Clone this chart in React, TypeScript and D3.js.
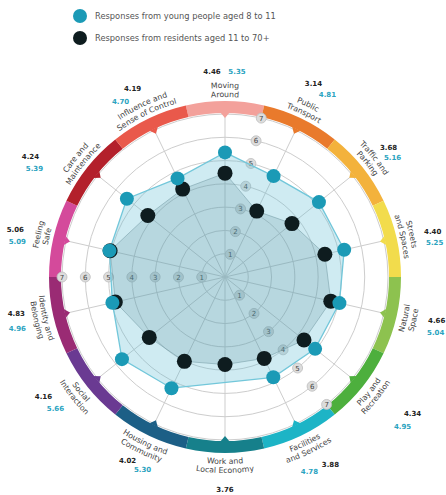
import React from "react";
import * as d3 from "d3";

const W = 446,
  H = 495;
const cx = 225,
  cy = 277;

// categories clockwise from the top, two lines each
const LABEL_LINES = [
  ["Moving", "Around"],
  ["Public", "Transport"],
  ["Traffic and", "Parking"],
  ["Streets", "and Spaces"],
  ["Natural", "Space"],
  ["Play and", "Recreation"],
  ["Facilities", "and Services"],
  ["Work and", "Local Economy"],
  ["Housing and", "Community"],
  ["Social", "Interaction"],
  ["Identity and", "Belonging"],
  ["Feeling", "Safe"],
  ["Care and", "Maintenance"],
  ["Influence and", "Sense of Control"],
];

const RESIDENTS = [4.46, 3.14, 3.68, 4.4, 4.66, 4.34, 3.88, 3.76, 4.02, 4.16, 4.83, 5.06, 4.24, 4.19];
const YOUNG = [5.35, 4.81, 5.16, 5.25, 5.04, 4.95, 4.78, null, 5.3, 5.66, 4.96, 5.09, 5.39, 4.7];

const SEGMENT_COLORS = [
  "#f3a19b", "#e97a2c", "#f3b23c", "#f2dc4c", "#8dc24f", "#4daf3d", "#1db4c6",
  "#16808b", "#1c5f86", "#6a3a92", "#9a2b74", "#d44a9b", "#b3202b", "#e9594b",
];

const SCALE_TICKS = [1, 2, 3, 4, 5, 6, 7];

const LEGEND = [
  { label: "Responses from young people aged 8 to 11", color: "#1b9ab6" },
  { label: "Responses from residents aged 11 to 70+", color: "#0e1c1f" },
];

// value label layout tweaks (black label nudge, blue label offset)
const BLACK_NUDGE = [[-13, 7], [-4, -2], [-3, 3], [0, 2], [4, -4], [21, 4], [13, -4], [0, -1], [-5, -8], [-15, -13], [-1, -11], [-2, 0], [-28, 12], [0, 3]];
const BLUE_OFFSET = [[25, 0], [14, 11], [4, 10], [2, 11], [-1, 12], [-10, 13], [-21, 7], [0, 0], [15, 9], [12, 12], [1, 15], [2, 12], [4, 12], [-12, 13]];

const n = LABEL_LINES.length;
const step = (2 * Math.PI) / n;
const r = d3.scaleLinear().domain([0, 7]).range([0, 163]);
const pt = (a: number, rad: number): [number, number] => [cx + rad * Math.sin(a), cy - rad * Math.cos(a)];

const bandArc = d3.arc<any>().innerRadius(164).outerRadius(176);

function labelPath(a: number, R: number, upper: boolean) {
  const s = 1.1;
  if (upper) {
    const [x0, y0] = pt(a - s, R), [x1, y1] = pt(a + s, R);
    return `M${x0},${y0} A${R},${R} 0 0 1 ${x1},${y1}`;
  }
  const [x0, y0] = pt(a + s, R), [x1, y1] = pt(a - s, R);
  return `M${x0},${y0} A${R},${R} 0 0 0 ${x1},${y1}`;
}

export default function App() {
  const radial = d3
    .lineRadial<[number, number]>()
    .angle(d => d[0])
    .radius(d => r(d[1]))
    .curve(d3.curveLinearClosed);

  const youngPts = YOUNG.map((v, i) => [i * step, v] as [number, number | null]).filter(d => d[1] != null) as [number, number][];
  const resPts = RESIDENTS.map((v, i) => [i * step, v] as [number, number]);

  const font = "'DejaVu Sans', sans-serif";

  return (
    <div style={{ position: "absolute", left: 0, top: 0 }}>
      <svg width={W} height={H} style={{ display: "block", background: "#fff" }}>
        {/* legend */}
        {LEGEND.map((d, i) => (
          <g key={i} transform={`translate(80,${16 + i * 22})`}>
            <circle r={7} fill={d.color} />
            <text x={15} y={3} fontSize={8.3} fill="#555" fontFamily={font}>
              {d.label}
            </text>
          </g>
        ))}

        {/* grid */}
        <g fill="none" stroke="#cdcdcd" strokeWidth={1}>
          {SCALE_TICKS.map(t => (
            <circle key={t} cx={cx} cy={cy} r={r(t)} />
          ))}
          {d3.range(n).map(i => {
            const [x, y] = pt(i * step, 161);
            return <line key={i} x1={cx} y1={cy} x2={x} y2={y} />;
          })}
        </g>

        {/* colored band */}
        <g transform={`translate(${cx},${cy})`}>
          {SEGMENT_COLORS.map((c, i) => (
            <path key={i} fill={c} d={bandArc({ startAngle: (i - 0.5) * step, endAngle: (i + 0.5) * step }) as string} />
          ))}
        </g>
        {SEGMENT_COLORS.map((c, i) => {
          const a = i * step;
          const p1 = pt(a - 0.028, 164.5), p2 = pt(a + 0.028, 164.5), tip = pt(a, 159);
          return <path key={i} fill={c} d={`M${p1}L${tip}L${p2}Z`} />;
        })}

        {/* scale labels */}
        {[0.5, 5.5, 10.5].map(k =>
          SCALE_TICKS.map(t => {
            const [x, y] = pt(k * step, r(t));
            return (
              <g key={`${k}-${t}`} transform={`translate(${x},${y})`}>
                <circle r={5} fill="#dcdcdc" stroke="#bdbdbd" strokeWidth={0.8} />
                <text y={2.5} textAnchor="middle" fontSize={7} fill="#444" fontFamily={font}>
                  {t}
                </text>
              </g>
            );
          })
        )}

        {/* areas */}
        <g transform={`translate(${cx},${cy})`}>
          <path d={radial(youngPts) as string} fill="rgba(95,190,212,0.3)" stroke="#72c7da" strokeWidth={1.3} />
          <path d={radial(resPts) as string} fill="rgba(60,115,125,0.16)" stroke="rgba(110,150,160,0.5)" strokeWidth={1} />
        </g>

        {/* dots */}
        {RESIDENTS.map((v, i) => {
          const [x, y] = pt(i * step, r(v));
          return <circle key={"r" + i} cx={x} cy={y} r={7.5} fill="#0e1c1f" />;
        })}
        {YOUNG.map((v, i) => {
          if (v == null) return null;
          const [x, y] = pt(i * step, r(v));
          return <circle key={"y" + i} cx={x} cy={y} r={7} fill="#1b9ab6" />;
        })}

        {/* category labels */}
        <defs>
          {LABEL_LINES.map((_, i) => {
            const a = i * step;
            const upper = Math.cos(a) >= 0;
            const radii = upper ? [189, 180] : [187, 196];
            return radii.map((R, j) => <path key={`${i}-${j}`} id={`lp-${i}-${j}`} d={labelPath(a, R, upper)} />);
          })}
        </defs>
        {LABEL_LINES.map((lines, i) =>
          lines.map((txt, j) => (
            <text key={`${i}-${j}`} fontSize={7.8} fill="#444" fontFamily={font}>
              <textPath href={`#lp-${i}-${j}`} startOffset="50%" textAnchor="middle">
                {txt}
              </textPath>
            </text>
          ))
        )}

        {/* values */}
        {RESIDENTS.map((v, i) => {
          const [x0, y0] = pt(i * step, 213);
          const x = x0 + BLACK_NUDGE[i][0], y = y0 + BLACK_NUDGE[i][1];
          const yv = YOUNG[i];
          return (
            <g key={"v" + i} fontFamily={font} fontSize={7} fontWeight="bold" textAnchor="middle">
              <text x={x} y={y + 2.5} fill="#222">
                {d3.format(".2f")(v)}
              </text>
              {yv != null && (
                <text x={x + BLUE_OFFSET[i][0]} y={y + BLUE_OFFSET[i][1] + 2.5} fill="#2aa3c0">
                  {d3.format(".2f")(yv)}
                </text>
              )}
            </g>
          );
        })}
      </svg>
    </div>
  );
}
